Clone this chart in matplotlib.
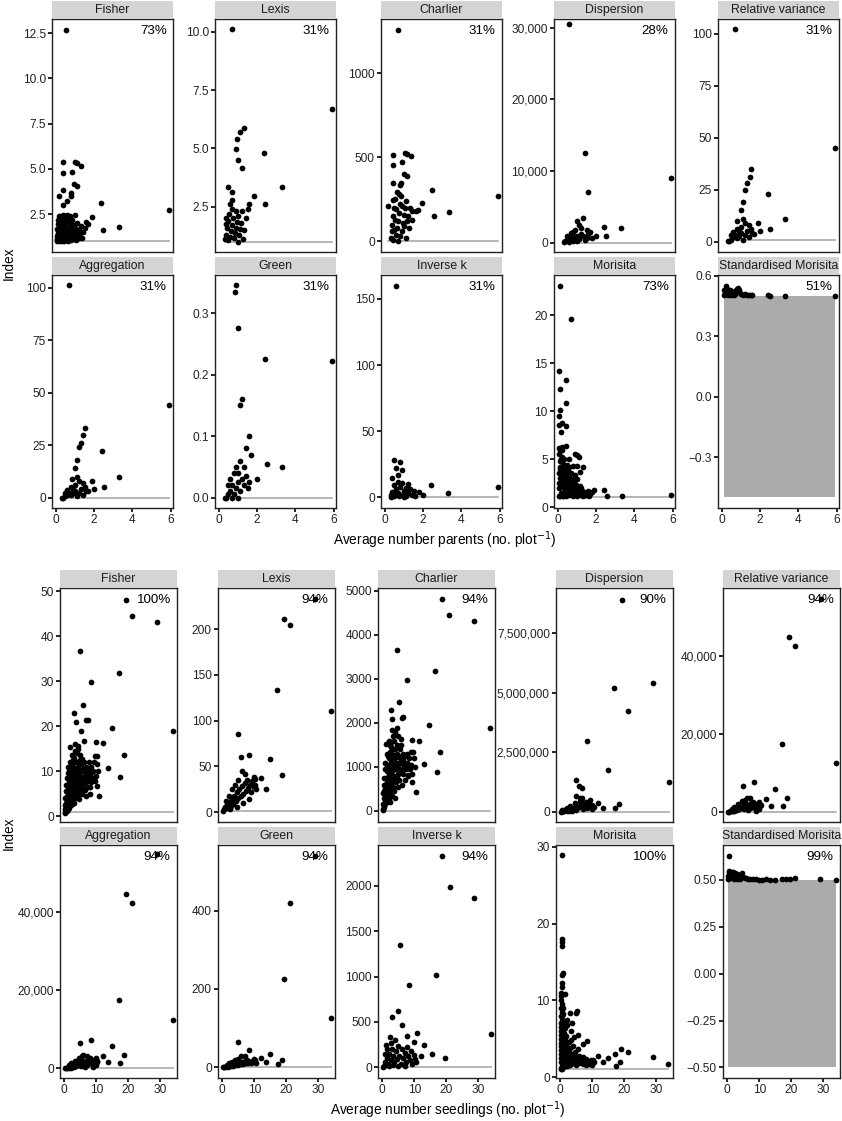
import numpy as np
import matplotlib.pyplot as plt
from matplotlib.ticker import FixedLocator, FixedFormatter

plt.rcParams['font.family'] = ['Liberation Sans', 'DejaVu Sans']

# ---- index names, percentages (share of plots with a value) ----
names = ['Fisher', 'Lexis', 'Charlier', 'Dispersion', 'Relative variance',
         'Aggregation', 'Green', 'Inverse k', 'Morisita', 'Standardised Morisita']
pct_parents = ['73%', '31%', '31%', '28%', '31%', '31%', '31%', '31%', '73%', '51%']
pct_seedlings = ['100%', '94%', '94%', '90%', '94%', '94%', '94%', '94%', '100%', '99%']
# reference value of randomness for each index (grey line)
ref_line = [1, 1, 0, 0, 1, 0, 0, 0, 1, None]

# ---- parents data: (average number parents, index) ----
fisher_p = [(0.55, 12.7), (0.36, 5.39), (1.0, 5.36), (1.09, 5.3), (1.30, 5.17), (0.39, 4.80), (0.84, 4.82),
            (0.95, 4.14), (1.09, 4.03), (0.39, 3.83), (0.15, 3.53), (0.79, 3.68), (0.78, 3.49), (0.57, 3.2),
            (0.39, 2.98), (2.36, 3.1), (5.93, 2.74), (1.87, 2.37), (1.58, 2.07), (1.70, 1.93), (2.48, 1.62),
            (3.30, 1.78), (1.23, 1.21),
            (0.08, 1.05), (0.1, 1.2), (0.12, 1.4), (0.1, 1.6), (0.15, 1.1), (0.18, 1.3), (0.2, 1.5), (0.15, 1.8),
            (0.2, 2.0), (0.1, 2.2), (0.25, 1.15), (0.28, 1.35), (0.3, 1.6), (0.25, 1.9), (0.3, 2.3), (0.35, 1.05),
            (0.38, 1.25), (0.4, 1.45), (0.42, 1.7), (0.45, 2.1), (0.4, 2.45), (0.5, 1.1), (0.52, 1.3), (0.55, 1.55),
            (0.5, 1.85), (0.6, 2.2), (0.62, 1.0), (0.65, 1.2), (0.7, 1.45), (0.68, 1.7), (0.72, 2.0), (0.75, 2.4),
            (0.8, 1.1), (0.82, 1.35), (0.85, 1.6), (0.9, 1.9), (0.95, 1.15), (1.0, 1.4), (1.05, 1.7), (1.1, 2.0),
            (1.15, 1.3), (1.2, 1.6), (1.3, 1.85), (1.4, 1.5), (0.05, 1.3), (0.07, 1.7), (0.22, 1.0), (0.33, 1.9),
            (0.47, 1.45), (0.58, 1.75), (0.85, 2.2), (1.0, 2.45), (0.3, 1.0), (0.12, 1.95), (0.6, 2.45), (0.18, 2.4),
            (0.05, 1.0), (0.1, 1.45), (0.2, 1.2), (0.27, 1.75), (0.35, 1.45), (0.43, 1.0), (0.48, 1.65),
            (0.55, 2.05), (0.62, 1.4), (0.7, 1.1), (0.75, 1.8), (0.88, 1.25), (0.93, 1.55), (1.05, 1.05),
            (1.12, 1.6), (1.25, 1.45), (1.35, 1.2), (1.5, 1.75), (0.15, 2.1), (0.35, 2.2), (0.52, 2.4),
            (0.8, 2.1), (0.97, 1.85), (0.07, 1.15), (0.22, 1.65), (0.66, 1.55)]
lexis_p = [(0.69, 10.1), (5.9, 6.7), (1.31, 5.89), (1.1, 5.68), (0.95, 5.38), (0.9, 4.95), (1.0, 4.5), (2.36, 4.82),
           (1.21, 4.17), (0.48, 3.32), (0.69, 3.14), (1.84, 2.97), (3.3, 3.36), (2.41, 2.59), (0.69, 2.8),
           (0.3, 1.1), (0.4, 1.3), (0.45, 1.6), (0.5, 1.9), (0.55, 2.2), (0.6, 1.2), (0.65, 1.45), (0.7, 1.7),
           (0.75, 2.0), (0.8, 1.15), (0.85, 1.35), (0.9, 1.6), (0.95, 1.85), (1.0, 2.1), (1.05, 1.3), (1.1, 1.55),
           (1.15, 1.8), (1.2, 2.3), (1.3, 1.5), (1.4, 2.0), (1.5, 2.4), (1.6, 2.6), (0.35, 1.75), (0.5, 1.05),
           (0.7, 2.4), (0.9, 2.3), (1.0, 1.0), (1.25, 1.1), (0.6, 2.6), (0.4, 2.0)]
charlier_p = [(0.67, 1258), (0.44, 515), (1.05, 525), (1.17, 521), (1.35, 509), (0.44, 456), (0.91, 471),
              (1.02, 401), (1.17, 392), (0.44, 347), (0.84, 347), (0.81, 333), (0.62, 294), (2.45, 304),
              (5.9, 272), (1.92, 229), (0.18, 209), (0.44, 248), (1.75, 185), (1.61, 179), (3.37, 173),
              (2.55, 150), (1.40, 130), (1.28, 81), (1.09, 18),
              (0.3, 20), (0.35, 60), (0.4, 100), (0.45, 150), (0.5, 200), (0.55, 250), (0.6, 40), (0.65, 80),
              (0.7, 120), (0.75, 170), (0.8, 220), (0.85, 270), (0.9, 60), (0.95, 110), (1.0, 160), (1.05, 200),
              (1.1, 240), (1.2, 150), (1.3, 200), (1.4, 180), (0.45, 10), (0.55, 130), (0.7, 5), (0.8, 30),
              (1.0, 90), (0.6, 190), (0.9, 210), (1.15, 120), (0.5, 70), (0.75, 280)]
dispersion_p = [(0.6, 30500), (1.4, 12500), (5.9, 9000), (1.6, 7000), (1.3, 3500), (1.0, 3000), (2.4, 2200),
                (3.3, 2000), (1.1, 2500), (0.8, 1500), (1.5, 1800), (1.2, 1200), (0.9, 800), (0.5, 400),
                (0.4, 200), (0.6, 100), (0.7, 600), (0.8, 300), (1.0, 1000), (1.1, 500), (1.3, 900), (1.5, 700),
                (1.7, 1500), (2.5, 900), (0.3, 50), (0.5, 900), (0.9, 1800), (1.2, 2000), (1.4, 400), (1.6, 1200),
                (0.7, 1300), (1.0, 200), (1.8, 600), (2.0, 1000)]
relvar_p = [(0.7, 102), (5.9, 45), (1.5, 35), (1.45, 31), (1.3, 28), (1.2, 25), (2.4, 23), (1.1, 19), (1.0, 15),
            (0.8, 10), (3.3, 11), (1.9, 9), (2.5, 6), (0.9, 5), (1.6, 4), (0.4, 0.5), (0.5, 1), (0.6, 2), (0.7, 3),
            (0.8, 1.5), (0.9, 2.5), (1.0, 4), (1.1, 1), (1.2, 3), (1.3, 5), (1.4, 2), (1.5, 6), (1.7, 3.5),
            (0.3, 0.3), (0.6, 4.5), (1.0, 7), (1.2, 9), (0.8, 6), (1.1, 11), (1.4, 8), (2.0, 5), (0.5, 3)]
aggregation_p = [(0.7, 101), (5.9, 44), (1.5, 33), (1.4, 30), (1.3, 26), (1.2, 24), (2.4, 22), (1.1, 18),
                 (1.0, 14), (0.85, 9), (3.3, 10), (1.9, 8), (2.5, 5), (0.9, 4), (1.6, 3), (0.4, 0), (0.5, 0.5),
                 (0.6, 1), (0.7, 2), (0.8, 1), (0.9, 2), (1.0, 3), (1.1, 0.5), (1.2, 2), (1.3, 4), (1.4, 1),
                 (1.5, 5), (1.7, 3), (0.3, 0), (0.6, 3.5), (1.0, 6), (1.2, 8), (0.8, 5), (1.1, 10), (1.4, 7),
                 (2.0, 4), (0.5, 2)]
green_p = [(0.9, 0.345), (0.85, 0.335), (1.0, 0.275), (2.4, 0.225), (5.9, 0.222), (1.2, 0.16), (1.1, 0.15),
           (1.6, 0.1), (1.4, 0.08), (1.7, 0.07), (3.3, 0.05), (2.5, 0.055), (0.9, 0.05), (1.0, 0.04), (0.4, 0.0),
           (0.5, 0.005), (0.6, 0.01), (0.7, 0.02), (0.8, 0.005), (0.9, 0.015), (1.0, 0.025), (1.1, 0.01),
           (1.2, 0.03), (1.3, 0.02), (1.4, 0.035), (1.5, 0.015), (0.3, 0.0), (0.6, 0.03), (0.8, 0.04),
           (1.1, 0.06), (1.3, 0.05), (0.7, 0.0), (1.0, 0.0), (0.5, 0.02), (1.6, 0.025), (2.0, 0.03)]
inversek_p = [(0.6, 160), (0.5, 28), (0.8, 27), (0.6, 22), (0.9, 21), (0.4, 15), (0.7, 12), (1.2, 10), (2.4, 9),
              (5.9, 8), (3.3, 3), (1.5, 5), (0.3, 2), (0.4, 4), (0.5, 1), (0.6, 6), (0.7, 3), (0.8, 8), (0.9, 2),
              (1.0, 5), (1.1, 1), (1.2, 3), (1.3, 6), (1.4, 2), (1.6, 1), (1.8, 4), (2.0, 2), (0.5, 9), (0.7, 17),
              (0.9, 11), (1.0, 0.5), (0.3, 0.5), (1.1, 7), (0.55, 4), (0.75, 1)]
morisita_p = [(0.11, 23.1), (0.67, 19.6), (0.06, 14.2), (0.41, 13.3), (0.13, 12.3), (0.44, 10.8), (0.10, 10.1),
              (0.08, 9.5), (0.06, 8.6), (0.2, 8.8), (0.43, 8.5), (0.18, 7.8), (0.41, 6.4), (0.1, 6.0), (0.22, 6.0),
              (0.58, 5.0), (0.9, 5.57), (1.02, 5.43), (1.12, 5.26), (0.81, 4.28), (0.98, 4.28), (1.30, 4.21),
              (1.16, 3.69), (2.40, 1.81), (2.55, 1.15), (3.34, 1.15), (5.9, 1.25),
              (0.05, 1.2), (0.08, 2), (0.1, 3), (0.12, 4), (0.15, 5), (0.05, 5.5), (0.18, 1.5), (0.2, 2.5),
              (0.22, 3.5), (0.25, 4.5), (0.1, 4.8), (0.28, 1.1), (0.3, 2), (0.32, 3), (0.35, 4), (0.3, 5),
              (0.38, 1.4), (0.4, 2.4), (0.42, 3.3), (0.45, 1.1), (0.5, 1.8), (0.52, 2.8), (0.55, 3.8), (0.6, 1.3),
              (0.62, 2.2), (0.65, 3.0), (0.7, 1.6), (0.72, 2.5), (0.78, 1.2), (0.8, 2.0), (0.85, 2.9), (0.9, 1.5),
              (0.95, 2.3), (1.0, 1.2), (1.05, 1.9), (1.1, 1.4), (1.15, 2.2), (1.2, 1.3), (1.25, 1.7), (1.3, 1.2),
              (1.4, 1.5), (1.5, 1.3), (1.6, 1.7), (1.7, 1.4), (1.8, 1.6), (1.9, 1.8), (0.15, 3.8), (0.2, 6.3),
              (0.08, 6.2), (0.35, 2.6), (0.5, 4.4), (0.12, 1.1), (0.25, 1.2), (0.4, 3.9), (0.6, 4.2), (0.7, 3.5),
              (0.9, 3.3), (1.0, 2.9),
              (0.05, 2.5), (0.07, 3.5), (0.1, 4.2), (0.14, 2.2), (0.17, 3.1), (0.2, 4.0), (0.23, 5.2), (0.27, 2.8),
              (0.3, 3.6), (0.33, 1.6), (0.37, 2.1), (0.45, 2.0), (0.48, 3.1), (0.55, 1.5), (0.58, 2.5),
              (0.68, 2.0), (0.75, 2.8), (0.83, 1.6), (0.88, 2.4), (1.08, 1.7), (1.2, 2.0), (1.35, 1.6),
              (1.45, 1.25), (1.55, 1.5), (1.65, 1.2)]
stdmorisita_p = [(0.1, 0.53), (0.15, 0.51), (0.2, 0.55), (0.25, 0.52), (0.3, 0.505), (0.35, 0.52), (0.4, 0.51),
                 (0.45, 0.53), (0.5, 0.505), (0.55, 0.515), (0.6, 0.52), (0.65, 0.505), (0.7, 0.51),
                 (0.75, 0.53), (0.8, 0.535), (0.85, 0.54), (0.9, 0.53), (0.95, 0.515), (1.0, 0.51),
                 (1.1, 0.505), (1.2, 0.51), (1.3, 0.503), (1.4, 0.505), (1.5, 0.503), (1.6, 0.502),
                 (2.4, 0.502), (2.5, 0.5), (3.3, 0.5), (5.9, 0.5), (0.12, 0.505), (0.28, 0.535), (0.5, 0.525)]

# ---- seedlings data: (average number seedlings, index) ----
fisher_s = [(19.2, 48.1), (21.3, 44.4), (29.1, 43.1), (4.9, 36.7), (17.1, 31.9), (8.4, 29.8), (5.8, 24.8),
            (3.2, 23.0), (3.6, 21.0), (6.7, 21.3), (7.3, 21.4), (5.2, 18.9), (15.0, 19.6), (33.9, 19.0),
            (6.2, 16.6), (9.8, 16.4), (12.0, 16.2), (1.8, 15.4), (3.4, 16.0), (4.3, 15.6), (18.7, 13.6),
            (9.6, 13.3), (10.3, 13.3), (13.6, 10.6), (17.4, 8.8), (11.0, 4.4), (10.1, 6.7),
            (0.3, 1.0), (0.4, 1.5), (0.5, 2.0), (0.5, 3.0), (0.6, 1.2), (0.7, 2.5), (0.8, 3.5), (0.8, 4.5),
            (0.9, 1.5), (1.0, 2.0), (1.0, 5.5), (1.1, 3.0), (1.2, 4.0), (1.2, 6.5), (1.3, 2.2), (1.4, 3.3),
            (1.5, 5.0), (1.5, 7.5), (1.6, 2.7), (1.7, 4.2), (1.8, 6.0), (1.8, 9.0), (1.9, 3.2), (2.0, 5.0),
            (2.0, 10.5), (2.1, 7.0), (2.2, 3.6), (2.3, 8.5), (2.4, 4.5), (2.5, 6.0), (2.5, 11.5), (2.6, 12.5),
            (2.7, 4.0), (2.8, 7.5), (2.9, 9.5), (3.0, 5.2), (3.1, 13.0), (3.2, 6.5), (3.3, 8.0), (3.4, 10.5),
            (3.5, 4.5), (3.6, 12.0), (3.7, 5.8), (3.8, 7.2), (3.9, 9.0), (4.0, 14.0), (4.1, 6.0), (4.2, 11.0),
            (4.3, 4.8), (4.4, 8.2), (4.5, 10.0), (4.6, 7.0), (4.8, 12.5), (4.9, 5.5), (5.0, 9.0), (5.2, 6.5),
            (5.3, 11.5), (5.5, 8.0), (5.6, 5.0), (5.8, 10.0), (6.0, 7.0), (6.2, 12.0), (6.4, 9.0), (6.5, 5.8),
            (6.7, 11.0), (7.0, 8.0), (7.2, 10.0), (7.4, 6.5), (7.6, 12.0), (8.0, 9.0), (8.3, 7.5), (8.5, 11.0),
            (8.8, 8.5), (9.0, 10.0), (9.3, 12.0), (9.5, 7.8), (9.8, 9.0), (10.2, 11.5), (10.5, 10.0), (8.0, 5.0),
            (6.8, 4.5), (0.2, 0.8), (0.35, 2.5), (1.4, 1.8), (2.2, 2.5), (3.0, 3.0), (4.5, 3.8), (5.5, 12.8),
            (3.3, 14.5), (4.3, 15.0), (1.6, 10.0), (2.8, 11.0),
            (0.4, 4.0), (0.6, 5.5), (0.7, 7.0), (0.9, 8.5), (1.1, 9.5), (1.3, 11.0), (1.0, 1.2), (1.2, 1.6),
            (1.5, 2.3), (1.8, 2.8), (2.1, 3.3), (2.4, 2.8), (2.7, 5.0), (3.0, 6.2), (3.3, 4.0), (3.6, 5.0),
            (3.9, 6.5), (4.2, 7.5), (4.5, 5.5), (4.8, 9.0), (5.1, 7.5), (5.4, 10.0), (5.7, 6.5), (6.1, 8.5),
            (6.4, 10.8), (6.7, 7.5), (7.1, 9.5), (7.5, 8.5), (7.9, 10.8), (8.2, 6.5), (8.7, 9.8), (9.2, 8.5),
            (1.7, 12.0), (2.3, 13.5), (2.0, 6.0), (2.6, 8.8), (3.5, 9.8), (4.0, 12.0), (5.0, 13.5), (6.0, 10.5)]
lexis_s = [(29.1, 233), (19.2, 211), (21.3, 205), (17.1, 133), (34.0, 111), (4.9, 85), (8.4, 62), (15.0, 58),
           (18.7, 40), (12.0, 37), (6.2, 45), (7.2, 42), (10.0, 38), (10.3, 30), (13.6, 25), (5.8, 60),
           (0.3, 1), (0.6, 3), (1.0, 5), (1.4, 8), (1.8, 4), (2.2, 11), (2.6, 7), (3.0, 14), (3.4, 9), (3.8, 18),
           (4.2, 12), (4.6, 22), (5.0, 15), (5.4, 25), (5.8, 18), (6.2, 28), (6.6, 20), (7.0, 32), (7.4, 23),
           (7.8, 35), (8.2, 26), (8.6, 30), (9.0, 22), (9.4, 34), (9.8, 27), (10.2, 36), (10.6, 25), (2.0, 18),
           (3.0, 25), (4.0, 30), (5.0, 35), (1.2, 12), (2.5, 3), (4.5, 6), (6.5, 10), (8.5, 14)]
charlier_s = [(18.8, 4811), (20.9, 4447), (28.6, 4311), (4.5, 3659), (16.6, 3189), (7.8, 2977), (5.3, 2477),
              (2.8, 2295), (3.2, 2083), (6.1, 2121), (6.6, 2136), (4.6, 1875), (14.6, 1955), (33.5, 1893),
              (5.9, 1643), (9.4, 1620), (11.5, 1602), (1.2, 1523), (2.7, 1575), (3.7, 1598), (18.1, 1348),
              (8.9, 1330), (9.5, 1330), (13.1, 1057), (17.0, 875), (10.6, 432), (9.2, 666), (8.2, 818),
              (0.3, 50), (0.4, 150), (0.5, 300), (0.6, 100), (0.7, 450), (0.8, 250), (0.9, 600), (1.0, 150),
              (1.1, 400), (1.2, 750), (1.3, 300), (1.4, 900), (1.5, 550), (1.6, 200), (1.7, 1050), (1.8, 700),
              (1.9, 400), (2.0, 1200), (2.1, 850), (2.2, 300), (2.3, 1350), (2.4, 600), (2.5, 1000), (2.6, 450),
              (2.7, 1450), (2.8, 750), (2.9, 1150), (3.0, 350), (3.1, 900), (3.2, 1300), (3.3, 550), (3.4, 1050),
              (3.5, 1700), (3.6, 700), (3.7, 1200), (3.8, 450), (3.9, 950), (4.0, 1400), (4.2, 650), (4.3, 1100),
              (4.5, 800), (4.6, 1500), (4.8, 550), (5.0, 1000), (5.2, 1250), (5.4, 700), (5.6, 1400), (5.8, 900),
              (6.0, 1100), (6.2, 600), (6.4, 1300), (6.6, 850), (6.8, 1050), (7.0, 700), (7.2, 1250), (7.5, 950),
              (7.8, 1100), (8.0, 800), (8.3, 1200), (8.6, 950), (9.0, 1050), (9.4, 850), (9.8, 1200),
              (10.2, 1000), (0.2, 20), (0.5, 600), (1.0, 950), (2.0, 1600), (3.0, 1850), (4.0, 1800),
              (5.0, 1700), (6.0, 1500), (2.5, 200), (4.0, 300), (1.5, 1300),
              (0.4, 400), (0.6, 750), (0.8, 1100), (1.0, 500), (1.2, 250), (1.4, 650), (1.6, 1000), (1.8, 1250),
              (2.0, 500), (2.2, 1000), (2.4, 1500), (2.6, 800), (2.8, 1100), (3.0, 650), (3.2, 1000),
              (3.4, 1400), (3.6, 1050), (3.8, 800), (4.1, 1200), (4.4, 950), (4.7, 1300), (5.0, 850),
              (5.3, 1100), (5.7, 1200), (6.1, 950), (6.5, 1150), (7.0, 1000), (7.6, 1300), (8.4, 1050)]
dispersion_s = [(19.2, 8.91e6), (16.9, 5.21e6), (28.9, 5.39e6), (21.1, 4.23e6), (8.3, 2.95e6), (14.8, 1.76e6),
                (34.0, 1.26e6), (4.9, 1.31e6), (5.8, 1.06e6), (6.9, 0.98e6), (4.9, 0.67e6), (6.2, 0.57e6),
                (6.9, 0.56e6), (17.1, 0.15e6), (18.5, 0.33e6), (13.5, 0.15e6), (11.9, 0.36e6), (9.3, 0.5e6),
                (0.3, 0), (0.5, 10000), (0.8, 20000), (1.0, 30000), (1.3, 20000), (1.6, 50000), (2.0, 40000),
                (2.4, 80000), (2.8, 60000), (3.2, 120000), (3.6, 90000), (4.0, 150000), (4.4, 110000),
                (4.8, 200000), (5.2, 140000), (5.6, 250000), (6.0, 180000), (6.5, 300000), (7.0, 200000),
                (7.5, 350000), (8.0, 250000), (8.5, 150000), (9.0, 300000), (9.5, 220000), (10.0, 280000),
                (10.5, 180000), (3.0, 250000), (4.5, 350000), (6.2, 450000), (2.0, 150000), (1.2, 80000),
                (8.2, 420000), (9.8, 120000), (5.0, 60000), (7.2, 100000), (3.8, 30000), (0.6, 50000),
                (2.6, 10000)]
relvar_s = [(29.3, 54530), (19.2, 44790), (21.2, 42380), (17.0, 17430), (34.0, 12480), (5.0, 6670), (8.4, 7520),
            (14.9, 5900), (18.6, 3510), (17.3, 1540), (12.0, 3250), (6.2, 3670), (7.2, 3510), (10.0, 2640),
            (10.4, 1795), (13.6, 1620),
            (0.3, 0), (0.6, 50), (1.0, 100), (1.4, 200), (1.8, 300), (2.2, 150), (2.6, 500), (3.0, 350),
            (3.4, 800), (3.8, 600), (4.2, 1200), (4.6, 900), (5.0, 1500), (5.4, 700), (5.8, 2000), (6.2, 1100),
            (6.6, 1700), (7.0, 900), (7.4, 2300), (7.8, 1300), (8.2, 1800), (8.6, 1000), (9.0, 2100),
            (9.4, 1400), (9.8, 800), (10.3, 1600), (2.0, 1300), (3.5, 2000), (4.5, 2700), (5.5, 3100),
            (8.0, 2600), (1.5, 800), (6.5, 400), (9.0, 300)]
aggregation_s = [(29.1, 54660), (19.2, 44600), (21.3, 42140), (17.1, 17370), (34.0, 12340), (4.9, 6540),
                 (8.4, 7300), (15.0, 5770), (18.7, 3400), (17.4, 1280), (12.0, 3140), (6.0, 3400), (7.0, 3140),
                 (9.9, 2550), (10.3, 1790), (13.6, 1530),
                 (0.3, 0), (0.6, 40), (1.0, 90), (1.4, 180), (1.8, 280), (2.2, 140), (2.6, 480), (3.0, 330),
                 (3.4, 780), (3.8, 580), (4.2, 1150), (4.6, 880), (5.0, 1450), (5.4, 680), (5.8, 1950),
                 (6.2, 1050), (6.6, 1650), (7.0, 880), (7.4, 2250), (7.8, 1250), (8.2, 1750), (8.6, 980),
                 (9.0, 2050), (9.4, 1350), (9.8, 780), (10.3, 1550), (2.0, 1250), (3.5, 1950), (4.5, 2650),
                 (5.5, 3050), (8.0, 2550), (1.5, 780), (6.5, 380), (9.0, 280)]
green_s = [(29.1, 540), (21.3, 420), (19.2, 225), (34.0, 125), (4.9, 65), (8.4, 45), (15.0, 35), (18.7, 20),
           (17.4, 8), (12.0, 25), (6.0, 30), (7.0, 28), (9.9, 22), (10.3, 15), (13.6, 14),
           (0.3, 0), (0.6, 1), (1.0, 2), (1.4, 3), (1.8, 2), (2.2, 4), (2.6, 3), (3.0, 6), (3.4, 4), (3.8, 8),
           (4.2, 5), (4.6, 10), (5.0, 7), (5.4, 12), (5.8, 8), (6.2, 14), (6.6, 9), (7.0, 16), (7.4, 10),
           (7.8, 18), (8.2, 11), (8.6, 15), (9.0, 12), (9.4, 17), (9.8, 13), (10.2, 20), (10.6, 12), (2.0, 10),
           (3.0, 14), (4.0, 18), (5.0, 22), (1.5, 6)]
inversek_s = [(18.7, 2330), (21.3, 1985), (28.5, 1870), (5.5, 1345), (16.9, 1020), (8.4, 905), (4.8, 620),
              (3.2, 560), (6.3, 470), (11.0, 380), (34.0, 370), (7.6, 350), (4.0, 300), (10.0, 280), (13.0, 250),
              (2.5, 330), (1.2, 250), (15.5, 150), (19.5, 100), (12.0, 120),
              (0.3, 5), (0.6, 20), (1.0, 60), (1.4, 100), (1.8, 40), (2.2, 150), (2.6, 80), (3.0, 200), (3.4, 120),
              (3.8, 60), (4.2, 180), (4.6, 90), (5.0, 240), (5.4, 130), (5.8, 40), (6.2, 200), (6.6, 100),
              (7.0, 160), (7.4, 60), (7.8, 220), (8.2, 120), (8.6, 80), (9.0, 180), (9.4, 40), (9.8, 140),
              (10.2, 90), (10.6, 60), (1.5, 200), (2.0, 10), (3.5, 30), (5.0, 15), (7.0, 20), (0.8, 150),
              (2.8, 270)]
morisita_s = [(0.48, 28.9), (0.48, 18.0), (0.48, 17.6), (0.48, 17.1), (0.67, 13.3), (1.0, 13.6), (0.48, 12.2),
              (0.48, 11.8), (1.5, 10.8), (0.2, 10.9), (0.4, 10.5), (3.07, 8.4), (4.85, 8.4), (5.2, 8.55),
              (3.6, 7.0), (8.3, 4.7), (7.2, 4.3), (5.7, 5.5), (19.0, 3.65), (21.3, 3.2), (17.1, 3.0), (15.0, 2.5),
              (13.5, 1.9), (29.1, 2.6), (18.7, 1.9), (17.5, 1.5), (11.9, 2.7), (10.3, 2.25), (33.7, 1.7),
              (0.3, 1.2), (0.3, 2), (0.3, 3), (0.3, 4), (0.3, 5), (0.3, 6), (0.3, 7), (0.3, 8), (0.3, 9),
              (0.5, 1.5), (0.5, 2.5), (0.5, 3.5), (0.5, 4.5), (0.5, 5.5), (0.5, 6.5), (0.5, 7.5), (0.5, 8.5),
              (0.5, 9.5), (0.8, 1.3), (0.8, 2.2), (0.8, 3.2), (0.8, 4.2), (0.8, 5.2), (0.8, 6.2), (0.8, 7.2),
              (0.8, 9.0), (1.1, 1.6), (1.1, 2.8), (1.1, 4.0), (1.1, 5.8), (1.1, 7.0), (1.4, 1.4), (1.4, 2.5),
              (1.4, 3.6), (1.4, 4.8), (1.4, 6.4), (1.8, 1.8), (1.8, 3.0), (1.8, 4.2), (1.8, 5.4), (2.2, 1.5),
              (2.2, 2.6), (2.2, 3.8), (2.2, 6.8), (2.6, 2.0), (2.6, 3.2), (2.6, 4.6), (3.0, 1.6), (3.0, 2.6),
              (3.0, 3.8), (3.5, 2.0), (3.5, 3.0), (3.5, 4.8), (4.0, 1.8), (4.0, 2.7), (4.0, 4.0), (4.5, 2.2),
              (4.5, 3.3), (5.0, 1.6), (5.0, 2.6), (5.5, 2.0), (5.5, 3.6), (6.0, 1.8), (6.0, 2.8), (6.5, 2.2),
              (7.0, 1.7), (7.0, 2.6), (7.5, 2.0), (8.0, 1.6), (8.0, 2.4), (8.5, 2.0), (9.0, 1.7), (9.5, 2.2),
              (10.0, 1.6), (10.5, 1.9), (0.2, 1.0), (0.4, 10.0), (0.6, 1.1), (1.0, 8.2), (2.0, 7.5), (3.3, 6.0),
              (4.3, 5.2),
              (0.35, 2.5), (0.35, 3.5), (0.35, 4.5), (0.35, 5.5), (0.35, 6.5), (0.65, 2.0), (0.65, 3.0),
              (0.65, 4.0), (0.65, 5.0), (0.65, 6.0), (0.65, 8.0), (0.95, 2.5), (0.95, 3.5), (0.95, 4.6),
              (0.95, 6.6), (1.25, 2.0), (1.25, 3.2), (1.25, 4.4), (1.6, 2.2), (1.6, 3.6), (2.0, 2.0),
              (2.0, 3.3), (2.4, 2.3), (2.8, 2.8), (3.2, 2.2), (3.8, 2.3), (4.8, 2.0), (6.2, 2.3)]
stdmorisita_s = [(0.5, 0.63), (0.3, 0.52), (0.5, 0.545), (0.7, 0.55), (0.9, 0.535), (1.1, 0.52), (1.3, 0.545),
                 (1.5, 0.53), (1.8, 0.54), (2.0, 0.525), (2.3, 0.535), (2.6, 0.52), (3.0, 0.53), (3.3, 0.515),
                 (3.6, 0.525), (4.0, 0.52), (4.5, 0.535), (5.0, 0.515), (5.5, 0.51), (6.0, 0.508),
                 (6.5, 0.505), (7.0, 0.505), (8.0, 0.503), (9.0, 0.503), (10.0, 0.502), (11.0, 0.502),
                 (12.0, 0.503), (13.5, 0.502), (15.0, 0.502), (17.0, 0.503), (18.5, 0.503), (19.5, 0.504),
                 (21.3, 0.508), (29.0, 0.505), (33.8, 0.501), (0.4, 0.505), (1.0, 0.51), (2.0, 0.505),
                 (3.0, 0.505), (4.0, 0.505), (0.6, 0.52), (1.6, 0.515), (2.8, 0.51)]

# ---- axis ranges and ticks ----
ylim_p = [(0.41, 13.28), (0.55, 10.55), (-63, 1323), (-1300, 31200), (-5, 107),
          (-5, 106), (-0.017, 0.362), (-8, 168), (-0.1, 24.2), (-0.5525, 0.6025)]
yticks_p = [[2.5, 5, 7.5, 10, 12.5], [2.5, 5, 7.5, 10], [0, 500, 1000], [0, 10000, 20000, 30000],
            [0, 25, 50, 75, 100], [0, 25, 50, 75, 100], [0, 0.1, 0.2, 0.3], [0, 50, 100, 150],
            [0, 5, 10, 15, 20], [-0.3, 0, 0.3, 0.6]]
ylabels_p = [['2.5', '5.0', '7.5', '10.0', '12.5'], ['2.5', '5.0', '7.5', '10.0'], ['0', '500', '1000'],
             ['0', '10,000', '20,000', '30,000'], ['0', '25', '50', '75', '100'], ['0', '25', '50', '75', '100'],
             ['0.0', '0.1', '0.2', '0.3'], ['0', '50', '100', '150'], ['0', '5', '10', '15', '20'],
             ['\u22120.3', '0.0', '0.3', '0.6']]
ylim_s = [(-1.3, 50.7), (-10.9, 245), (-250, 5068), (-0.44e6, 9.4e6), (-2600, 57300),
          (-2500, 57000), (-27, 567), (-117, 2450), (-0.13, 30.26), (-0.5565, 0.6865)]
yticks_s = [[0, 10, 20, 30, 40, 50], [0, 50, 100, 150, 200], [0, 1000, 2000, 3000, 4000, 5000],
            [0, 2.5e6, 5e6, 7.5e6], [0, 20000, 40000], [0, 20000, 40000], [0, 200, 400],
            [0, 500, 1000, 1500, 2000], [0, 10, 20, 30], [-0.5, -0.25, 0, 0.25, 0.5]]
ylabels_s = [['0', '10', '20', '30', '40', '50'], ['0', '50', '100', '150', '200'],
             ['0', '1000', '2000', '3000', '4000', '5000'], ['0', '2,500,000', '5,000,000', '7,500,000'],
             ['0', '20,000', '40,000'], ['0', '20,000', '40,000'], ['0', '200', '400'],
             ['0', '500', '1000', '1500', '2000'], ['0', '10', '20', '30'],
             ['\u22120.50', '\u22120.25', '0.00', '0.25', '0.50']]
xlim_p, xticks_p = (-0.2, 6.12), [0, 2, 4, 6]
xlim_s, xticks_s = (-1.3, 35.2), [0, 10, 20, 30]

data_p = [fisher_p, lexis_p, charlier_p, dispersion_p, relvar_p,
          aggregation_p, green_p, inversek_p, morisita_p, stdmorisita_p]
data_s = [fisher_s, lexis_s, charlier_s, dispersion_s, relvar_s,
          aggregation_s, green_s, inversek_s, morisita_s, stdmorisita_s]

W, H = 842, 1121
fig = plt.figure(figsize=(W / 100, H / 100), dpi=100)

STRIP = '#d4d4d4'
REF = '#a9a9a9'


def px_axes(left, top, width, height):
    return fig.add_axes([left / W, 1 - (top + height) / H, width / W, height / H])


def draw_group(data, ylims, yticks, ylabels, pcts, xlim, xticks, lefts, width, rows):
    for i in range(10):
        r, c = divmod(i, 5)
        top, bottom = rows[r]
        ax = px_axes(lefts[c], top, width, bottom - top)
        st = px_axes(lefts[c], top - 18, width, 17)
        st.set_facecolor(STRIP)
        st.set_xticks([])
        st.set_yticks([])
        for s in st.spines.values():
            s.set_visible(False)
        st.text(0.5, 0.45, names[i], ha='center', va='center', fontsize=8.8, color='#1a1a1a')

        xy = np.array(data[i], dtype=float)
        xmin, xmax = xy[:, 0].min(), xy[:, 0].max()
        if ref_line[i] is None:
            ax.fill_between([xmin, xmax], -0.5, 0.5, color='#ababab', lw=0, zorder=1)
        else:
            ax.plot([xmin, xmax], [ref_line[i]] * 2, color=REF, lw=1.2, zorder=1)
        ax.scatter(xy[:, 0], xy[:, 1], s=17, color='black', linewidths=0, zorder=3)

        ax.set_xlim(*xlim)
        ax.set_ylim(*ylims[i])
        ax.yaxis.set_major_locator(FixedLocator(yticks[i]))
        ax.yaxis.set_major_formatter(FixedFormatter(ylabels[i]))
        if r == 1:
            ax.set_xticks(xticks)
            ax.set_xticklabels([str(t) for t in xticks])
        else:
            ax.set_xticks([])
        ax.tick_params(axis='both', direction='out', length=3, width=1.2, labelsize=8.6,
                       labelcolor='#222222', pad=1.5)
        for s in ax.spines.values():
            s.set_linewidth(1.0)
            s.set_color('#222222')
        ax.annotate(pcts[i], xy=(1, 1), xycoords='axes fraction', xytext=(-4.5, -4.5),
                    textcoords='offset points', ha='right', va='top', fontsize=9.6, zorder=5)


draw_group(data_p, ylim_p, yticks_p, ylabels_p, pct_parents, xlim_p, xticks_p,
           [52, 215, 381, 554, 718], 121, [(19, 252), (275, 508)])
draw_group(data_s, ylim_s, yticks_s, ylabels_s, pct_seedlings, xlim_s, xticks_s,
           [60, 218, 378, 556, 723], 117, [(588, 822), (845, 1078)])

fig.text(445 / W, 1 - 540 / H, 'Average number parents (no. plot$^{-1}$)', ha='center', va='center', fontsize=9.8)
fig.text(448 / W, 1 - 1110 / H, 'Average number seedlings (no. plot$^{-1}$)', ha='center', va='center',
         fontsize=9.8)
fig.text(9 / W, 1 - 263 / H, 'Index', rotation=90, ha='center', va='center', fontsize=9.8)
fig.text(9 / W, 1 - 833 / H, 'Index', rotation=90, ha='center', va='center', fontsize=9.8)

fig.savefig('out.png', dpi=100)
